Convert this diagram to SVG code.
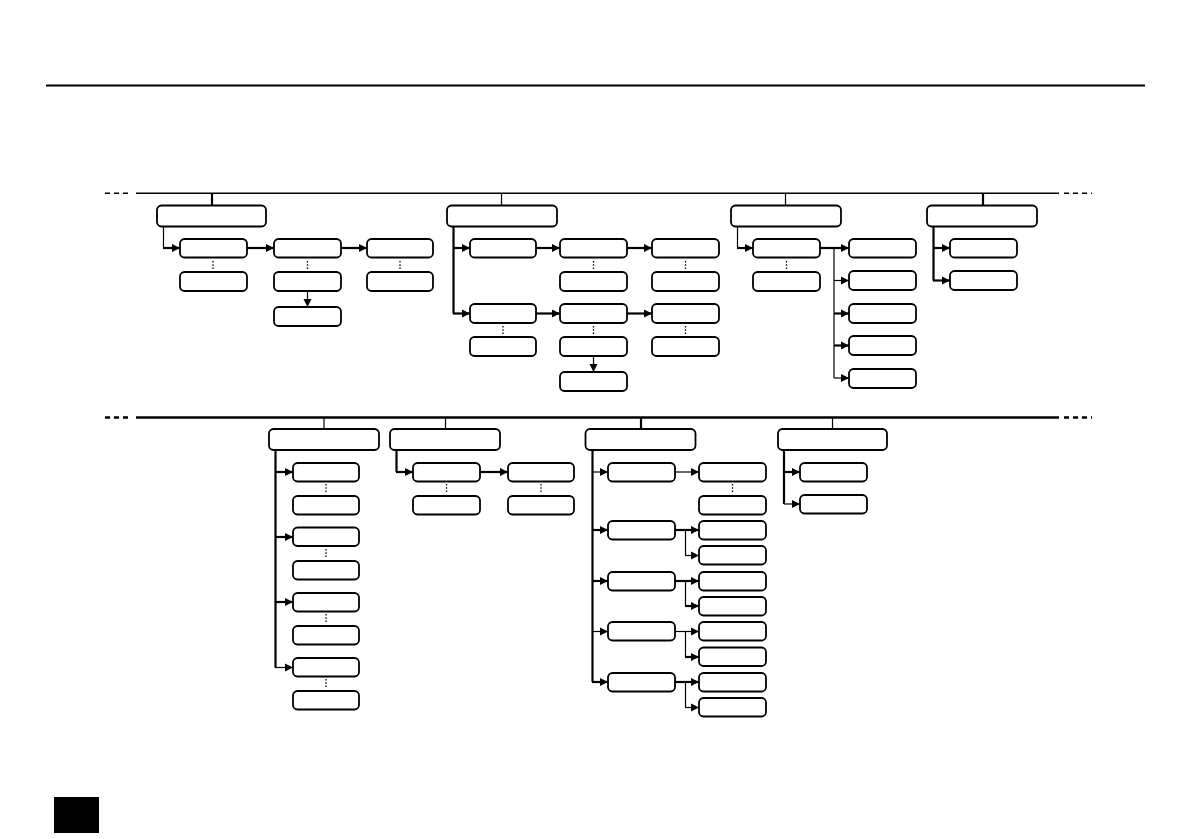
<svg xmlns="http://www.w3.org/2000/svg" width="1191" height="839" viewBox="0 0 1191 839">
<style>
.b{fill:#fff;stroke:#000;stroke-width:1.8}
.k{stroke:#000;stroke-width:2.2;fill:none}
.t{stroke:#000;stroke-width:1.2;fill:none}
.a{marker-end:url(#ar)}
.d{stroke:#000;stroke-width:1.3;stroke-dasharray:1.6 1.6;fill:none}
.bus{stroke:#000;fill:none}
</style>
<defs>
<marker id="ar" markerUnits="userSpaceOnUse" markerWidth="9" markerHeight="9" refX="8" refY="4.5" orient="auto">
<path d="M0,0.5 L8,4.5 L0,8.5 z" fill="#000"/>
</marker>
</defs>
<rect x="54" y="797" width="45" height="36" fill="#000"/>
<line x1="46" y1="85.5" x2="1145" y2="85.5" stroke="#000" stroke-width="2"/>
<g id="connectors">
<line class="bus" x1="105" y1="193.3" x2="132" y2="193.3" stroke-width="1.4" stroke-dasharray="5 4"/>
<line class="bus" x1="136" y1="193.3" x2="1059" y2="193.3" stroke-width="1.4"/>
<line class="bus" x1="1064" y1="193.3" x2="1092" y2="193.3" stroke-width="1.4" stroke-dasharray="5 4"/>
<line class="bus" x1="105" y1="417.5" x2="132" y2="417.5" stroke-width="2.5" stroke-dasharray="5 4"/>
<line class="bus" x1="136" y1="417.5" x2="1059" y2="417.5" stroke-width="2.5"/>
<line class="bus" x1="1064" y1="417.5" x2="1092" y2="417.5" stroke-width="2.5" stroke-dasharray="5 4"/>
<line class="k" x1="212" y1="193" x2="212" y2="205"/>
<line class="t" x1="501.5" y1="193" x2="501.5" y2="205"/>
<line class="t" x1="785.5" y1="193" x2="785.5" y2="205"/>
<line class="k" x1="983" y1="193" x2="983" y2="205"/>
<line class="t" x1="324" y1="418" x2="324" y2="429"/>
<line class="t" x1="445.5" y1="418" x2="445.5" y2="429"/>
<line class="k" x1="641" y1="418" x2="641" y2="429"/>
<line class="t" x1="832.5" y1="418" x2="832.5" y2="429"/>

<line class="t" x1="163.5" y1="226.5" x2="163.5" y2="248"/>
<line class="k a" x1="163" y1="248" x2="180" y2="248"/>
<line class="k a" x1="247" y1="248" x2="274" y2="248"/>
<line class="k a" x1="341" y1="248" x2="367" y2="248"/>
<line class="d" x1="213" y1="261" x2="213" y2="270"/>
<line class="d" x1="307.5" y1="261" x2="307.5" y2="270"/>
<line class="d" x1="400" y1="261" x2="400" y2="270"/>
<line class="t a" x1="307.5" y1="291" x2="307.5" y2="307"/>

<line class="k" x1="453.5" y1="226.5" x2="453.5" y2="313.5"/>
<line class="k a" x1="453" y1="248" x2="470" y2="248"/>
<line class="k a" x1="453" y1="313.5" x2="470" y2="313.5"/>
<line class="k a" x1="536" y1="248" x2="560" y2="248"/>
<line class="k a" x1="627" y1="248" x2="652" y2="248"/>
<line class="k a" x1="536" y1="313.5" x2="560" y2="313.5"/>
<line class="k a" x1="627" y1="313.5" x2="652" y2="313.5"/>
<line class="d" x1="593.5" y1="261" x2="593.5" y2="270"/>
<line class="d" x1="685.5" y1="261" x2="685.5" y2="270"/>
<line class="d" x1="503" y1="326" x2="503" y2="335"/>
<line class="d" x1="593.5" y1="326" x2="593.5" y2="335"/>
<line class="d" x1="685.5" y1="326" x2="685.5" y2="335"/>
<line class="t a" x1="593.5" y1="356" x2="593.5" y2="372"/>

<line class="t" x1="737.5" y1="226.5" x2="737.5" y2="248"/>
<line class="k a" x1="737" y1="248" x2="753" y2="248"/>
<line class="d" x1="786.5" y1="261" x2="786.5" y2="270"/>
<line class="k" x1="820" y1="248" x2="834" y2="248"/>
<line class="t" x1="834" y1="248" x2="834" y2="378"/>
<line class="k a" x1="834" y1="248" x2="849" y2="248"/>
<line class="t a" x1="834" y1="280.5" x2="849" y2="280.5"/>
<line class="k a" x1="834" y1="313.5" x2="849" y2="313.5"/>
<line class="k a" x1="834" y1="345.5" x2="849" y2="345.5"/>
<line class="t a" x1="834" y1="378" x2="849" y2="378"/>

<line class="k" x1="933.5" y1="226.5" x2="933.5" y2="280.5"/>
<line class="k a" x1="933" y1="248" x2="950" y2="248"/>
<line class="k a" x1="933" y1="280.5" x2="950" y2="280.5"/>

<line class="k" x1="275.5" y1="450" x2="275.5" y2="667.5"/>
<line class="k a" x1="275" y1="472" x2="293" y2="472"/>
<line class="k a" x1="275" y1="537" x2="293" y2="537"/>
<line class="k a" x1="275" y1="602" x2="293" y2="602"/>
<line class="t a" x1="275" y1="667.5" x2="293" y2="667.5"/>
<line class="d" x1="326" y1="484" x2="326" y2="493"/>
<line class="d" x1="326" y1="549" x2="326" y2="558"/>
<line class="d" x1="326" y1="614" x2="326" y2="623"/>
<line class="d" x1="326" y1="679" x2="326" y2="688"/>

<line class="k" x1="396.5" y1="450" x2="396.5" y2="472"/>
<line class="k a" x1="396" y1="472" x2="413" y2="472"/>
<line class="k a" x1="480" y1="472" x2="508" y2="472"/>
<line class="d" x1="446.5" y1="484" x2="446.5" y2="493"/>
<line class="d" x1="541" y1="484" x2="541" y2="493"/>

<line class="k" x1="592.5" y1="450" x2="592.5" y2="682"/>
<line class="t a" x1="592" y1="472" x2="608" y2="472"/>
<line class="k a" x1="592" y1="530" x2="608" y2="530"/>
<line class="k a" x1="592" y1="581" x2="608" y2="581"/>
<line class="t a" x1="592" y1="631.5" x2="608" y2="631.5"/>
<line class="k a" x1="592" y1="682" x2="608" y2="682"/>
<line class="t a" x1="675" y1="472" x2="699" y2="472"/>
<line class="d" x1="732.5" y1="484" x2="732.5" y2="493"/>
<line class="k a" x1="675" y1="530" x2="699" y2="530"/>
<line class="t" x1="685.5" y1="530" x2="685.5" y2="555.5"/>
<line class="t a" x1="685" y1="555.5" x2="699" y2="555.5"/>
<line class="k a" x1="675" y1="581" x2="699" y2="581"/>
<line class="t" x1="685.5" y1="581" x2="685.5" y2="606"/>
<line class="k a" x1="685" y1="606" x2="699" y2="606"/>
<line class="t a" x1="675" y1="631.5" x2="699" y2="631.5"/>
<line class="t" x1="685.5" y1="631.5" x2="685.5" y2="657"/>
<line class="k a" x1="685" y1="657" x2="699" y2="657"/>
<line class="k a" x1="675" y1="682" x2="699" y2="682"/>
<line class="t" x1="685.5" y1="682" x2="685.5" y2="707.5"/>
<line class="t a" x1="685" y1="707.5" x2="699" y2="707.5"/>

<line class="k" x1="784" y1="450" x2="784" y2="504"/>
<line class="k a" x1="784" y1="472" x2="800" y2="472"/>
<line class="t a" x1="784" y1="504" x2="800" y2="504"/>
</g>

<g id="n1"><rect class="b" x="157" y="205.5" width="109" height="21" rx="4.5"/></g>
<g id="n1a"><rect class="b" x="180" y="239" width="67" height="18.5" rx="4.5"/></g>
<g id="n1a2"><rect class="b" x="180" y="272" width="67" height="19" rx="4.5"/></g>
<g id="n1b"><rect class="b" x="274" y="239" width="67" height="18.5" rx="4.5"/></g>
<g id="n1b2"><rect class="b" x="274" y="272" width="67" height="19" rx="4.5"/></g>
<g id="n1b3"><rect class="b" x="274" y="307" width="67" height="19" rx="4.5"/></g>
<g id="n1c"><rect class="b" x="367" y="239" width="66" height="18.5" rx="4.5"/></g>
<g id="n1c2"><rect class="b" x="367" y="272" width="66" height="19" rx="4.5"/></g>

<g id="n2"><rect class="b" x="447" y="205.5" width="110" height="21" rx="4.5"/></g>
<g id="n2a"><rect class="b" x="470" y="239" width="66" height="18.5" rx="4.5"/></g>
<g id="n2b"><rect class="b" x="560" y="239" width="67" height="18.5" rx="4.5"/></g>
<g id="n2b2"><rect class="b" x="560" y="272" width="67" height="19" rx="4.5"/></g>
<g id="n2c"><rect class="b" x="652" y="239" width="67" height="18.5" rx="4.5"/></g>
<g id="n2c2"><rect class="b" x="652" y="272" width="67" height="19" rx="4.5"/></g>
<g id="n2d"><rect class="b" x="470" y="304" width="66" height="19" rx="4.5"/></g>
<g id="n2d2"><rect class="b" x="470" y="337" width="66" height="19" rx="4.5"/></g>
<g id="n2e"><rect class="b" x="560" y="304" width="67" height="19" rx="4.5"/></g>
<g id="n2e2"><rect class="b" x="560" y="337" width="67" height="19" rx="4.5"/></g>
<g id="n2e3"><rect class="b" x="560" y="372" width="67" height="19" rx="4.5"/></g>
<g id="n2f"><rect class="b" x="652" y="304" width="67" height="19" rx="4.5"/></g>
<g id="n2f2"><rect class="b" x="652" y="337" width="67" height="19" rx="4.5"/></g>

<g id="n3"><rect class="b" x="731" y="205.5" width="110" height="21" rx="4.5"/></g>
<g id="n3a"><rect class="b" x="753" y="239" width="67" height="18.5" rx="4.5"/></g>
<g id="n3a2"><rect class="b" x="753" y="272" width="67" height="19" rx="4.5"/></g>
<g id="n3b1"><rect class="b" x="849" y="239" width="67" height="18.5" rx="4.5"/></g>
<g id="n3b2"><rect class="b" x="849" y="271" width="67" height="19" rx="4.5"/></g>
<g id="n3b3"><rect class="b" x="849" y="304" width="67" height="19" rx="4.5"/></g>
<g id="n3b4"><rect class="b" x="849" y="336" width="67" height="19" rx="4.5"/></g>
<g id="n3b5"><rect class="b" x="849" y="369" width="67" height="19" rx="4.5"/></g>

<g id="n4"><rect class="b" x="927" y="205.5" width="110" height="21" rx="4.5"/></g>
<g id="n4a"><rect class="b" x="950" y="239" width="67" height="18.5" rx="4.5"/></g>
<g id="n4b"><rect class="b" x="950" y="271" width="67" height="19" rx="4.5"/></g>

<g id="m1"><rect class="b" x="269" y="429" width="110" height="21" rx="4.5"/></g>
<g id="m1a"><rect class="b" x="293" y="463" width="66" height="18.5" rx="4.5"/></g>
<g id="m1a2"><rect class="b" x="293" y="496" width="66" height="18.5" rx="4.5"/></g>
<g id="m1b"><rect class="b" x="293" y="527.5" width="66" height="18.5" rx="4.5"/></g>
<g id="m1b2"><rect class="b" x="293" y="561" width="66" height="18.5" rx="4.5"/></g>
<g id="m1c"><rect class="b" x="293" y="593" width="66" height="18.5" rx="4.5"/></g>
<g id="m1c2"><rect class="b" x="293" y="626" width="66" height="18.5" rx="4.5"/></g>
<g id="m1d"><rect class="b" x="293" y="658" width="66" height="18.5" rx="4.5"/></g>
<g id="m1d2"><rect class="b" x="293" y="691" width="66" height="18.5" rx="4.5"/></g>

<g id="m2"><rect class="b" x="390" y="429" width="110" height="21" rx="4.5"/></g>
<g id="m2a"><rect class="b" x="413" y="463" width="67" height="18.5" rx="4.5"/></g>
<g id="m2a2"><rect class="b" x="413" y="496" width="67" height="18.5" rx="4.5"/></g>
<g id="m2b"><rect class="b" x="508" y="463" width="66" height="18.5" rx="4.5"/></g>
<g id="m2b2"><rect class="b" x="508" y="496" width="66" height="18.5" rx="4.5"/></g>

<g id="m3"><rect class="b" x="585.5" y="429" width="110" height="21" rx="4.5"/></g>
<g id="m3a"><rect class="b" x="608" y="463" width="67" height="18.5" rx="4.5"/></g>
<g id="m3b"><rect class="b" x="608" y="521" width="67" height="18.5" rx="4.5"/></g>
<g id="m3c"><rect class="b" x="608" y="572" width="67" height="18.5" rx="4.5"/></g>
<g id="m3d"><rect class="b" x="608" y="622" width="67" height="18.5" rx="4.5"/></g>
<g id="m3e"><rect class="b" x="608" y="673" width="67" height="18.5" rx="4.5"/></g>
<g id="m3r1"><rect class="b" x="699" y="463" width="67" height="18.5" rx="4.5"/></g>
<g id="m3r2"><rect class="b" x="699" y="496" width="67" height="18.5" rx="4.5"/></g>
<g id="m3r3"><rect class="b" x="699" y="521" width="67" height="18.5" rx="4.5"/></g>
<g id="m3r4"><rect class="b" x="699" y="546" width="67" height="18.5" rx="4.5"/></g>
<g id="m3r5"><rect class="b" x="699" y="572" width="67" height="18.5" rx="4.5"/></g>
<g id="m3r6"><rect class="b" x="699" y="597" width="67" height="18.5" rx="4.5"/></g>
<g id="m3r7"><rect class="b" x="699" y="622" width="67" height="18.5" rx="4.5"/></g>
<g id="m3r8"><rect class="b" x="699" y="647.5" width="67" height="18.5" rx="4.5"/></g>
<g id="m3r9"><rect class="b" x="699" y="673" width="67" height="18.5" rx="4.5"/></g>
<g id="m3r10"><rect class="b" x="699" y="698" width="67" height="18.5" rx="4.5"/></g>

<g id="m4"><rect class="b" x="778" y="429" width="109" height="21" rx="4.5"/></g>
<g id="m4a"><rect class="b" x="800" y="463" width="67" height="18.5" rx="4.5"/></g>
<g id="m4b"><rect class="b" x="800" y="495" width="67" height="18.5" rx="4.5"/></g>
</svg>
